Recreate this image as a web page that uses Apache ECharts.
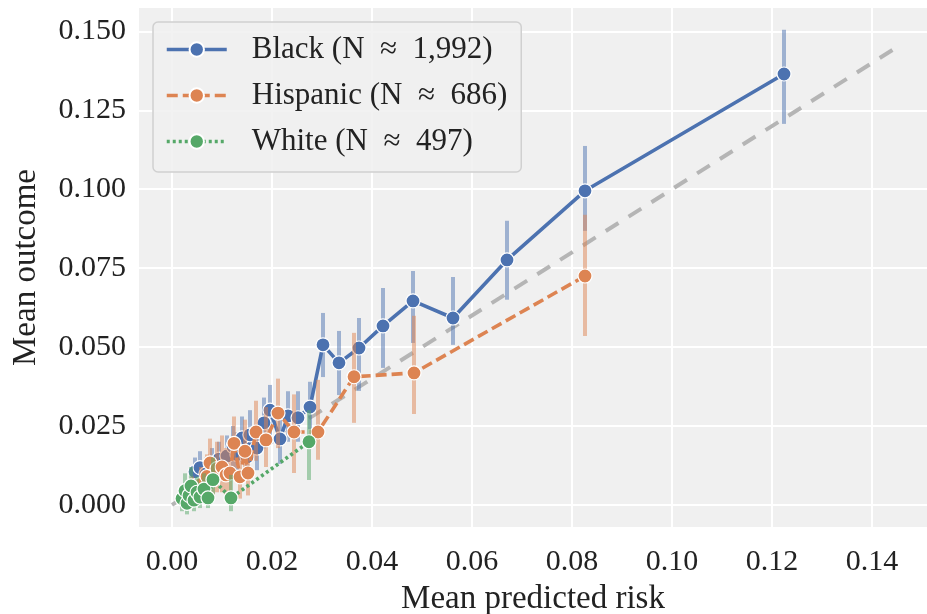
<!DOCTYPE html>
<html>
<head>
<meta charset="utf-8">
<script src="https://cdn.jsdelivr.net/npm/echarts@6/dist/echarts.min.js"></script>
<style>
html, body { margin: 0; padding: 0; background: #fff; }
#chart { width: 927px; height: 614px; }
</style>
</head>
<body>
<div id="chart"></div>
<script>
// binned calibration points: mean predicted risk, mean outcome, error bar low/high
var blackX  = [0.0046, 0.0056, 0.0068, 0.0080, 0.0094, 0.0110, 0.0122, 0.0130, 0.0140, 0.0150, 0.0156, 0.0170, 0.0184, 0.0196, 0.0216, 0.0232, 0.0252, 0.0276, 0.0302, 0.0334, 0.0374, 0.0422, 0.0482, 0.0562, 0.0670, 0.0826, 0.1224];
var blackY  = [0.0105, 0.0118, 0.0098, 0.0130, 0.0145, 0.0155, 0.0185, 0.0160, 0.0212, 0.0152, 0.0222, 0.0180, 0.0260, 0.0300, 0.0209, 0.0282, 0.0276, 0.0310, 0.0507, 0.0450, 0.0497, 0.0567, 0.0646, 0.0592, 0.0776, 0.0995, 0.1365];
var blackLo = [0.0060, 0.0070, 0.0050, 0.0080, 0.0090, 0.0100, 0.0120, 0.0100, 0.0140, 0.0090, 0.0150, 0.0110, 0.0180, 0.0220, 0.0130, 0.0200, 0.0200, 0.0240, 0.0405, 0.0348, 0.0361, 0.0434, 0.0513, 0.0507, 0.0650, 0.0868, 0.1207];
var blackHi = [0.0150, 0.0170, 0.0150, 0.0180, 0.0200, 0.0220, 0.0250, 0.0230, 0.0280, 0.0220, 0.0300, 0.0250, 0.0340, 0.0380, 0.0290, 0.0360, 0.0360, 0.0390, 0.0608, 0.0551, 0.0592, 0.0687, 0.0741, 0.0722, 0.0900, 0.1137, 0.1505];

var hispX  = [0.0040, 0.0058, 0.0070, 0.0076, 0.0082, 0.0090, 0.0100, 0.0108, 0.0116, 0.0124, 0.0136, 0.0146, 0.0152, 0.0168, 0.0188, 0.0212, 0.0244, 0.0292, 0.0364, 0.0484, 0.0826];
var hispY  = [0.0040, 0.0065, 0.0090, 0.0133, 0.0079, 0.0115, 0.0120, 0.0095, 0.0101, 0.0195, 0.0089, 0.0170, 0.0101, 0.0231, 0.0206, 0.0291, 0.0231, 0.0231, 0.0406, 0.0418, 0.0725];
var hispLo = [0.0000, 0.0010, 0.0030, 0.0060, 0.0020, 0.0040, 0.0040, 0.0030, 0.0030, 0.0110, 0.0020, 0.0090, 0.0030, 0.0140, 0.0120, 0.0180, 0.0101, 0.0143, 0.0260, 0.0288, 0.0535];
var hispHi = [0.0090, 0.0120, 0.0160, 0.0210, 0.0150, 0.0200, 0.0220, 0.0180, 0.0190, 0.0280, 0.0170, 0.0270, 0.0190, 0.0330, 0.0310, 0.0400, 0.0350, 0.0396, 0.0545, 0.0599, 0.0919];

var whiteX  = [0.0020, 0.0026, 0.0030, 0.0034, 0.0038, 0.0044, 0.0050, 0.0056, 0.0064, 0.0072, 0.0082, 0.0118, 0.0274];
var whiteY  = [0.0020, 0.0045, 0.0005, 0.0030, 0.0060, 0.0015, 0.0040, 0.0025, 0.0050, 0.0022, 0.0080, 0.0022, 0.0200];
var whiteLo = [-0.0020, 0.0000, -0.0030, -0.0010, 0.0010, -0.0020, 0.0000, -0.0010, 0.0010, -0.0010, 0.0020, -0.0020, 0.0079];
var whiteHi = [0.0060, 0.0100, 0.0050, 0.0080, 0.0120, 0.0060, 0.0090, 0.0070, 0.0100, 0.0060, 0.0150, 0.0095, 0.0300];

var diagX = [0, 0.146];
var xTicks = [0, 0.02, 0.04, 0.06, 0.08, 0.10, 0.12, 0.14];
var yTicks = [0, 0.025, 0.05, 0.075, 0.10, 0.125, 0.15];

var names = ['Black (N  \u2248  1,992)', 'Hispanic (N  \u2248  686)', 'White (N  \u2248  497)'];
var colors = ['#4c72b0', '#dd8452', '#55a868'];

var font = "'Liberation Serif', 'DejaVu Serif', serif";

function pts(xs, ys) {
	return xs.map(function (x, i) { return [x, ys[i]]; });
}
function bars(xs, lo, hi) {
	return xs.map(function (x, i) { return [x, lo[i], hi[i]]; });
}

function errSeries(name, data, color, z) {
	return {
		name: name,
		type: 'custom',
		z: z,
		silent: true,
		encode: { x: 0, y: [1, 2] },
		data: data,
		renderItem: function (params, api) {
			var p1 = api.coord([api.value(0), api.value(1)]);
			var p2 = api.coord([api.value(0), api.value(2)]);
			return {
				type: 'line',
				shape: { x1: p1[0], y1: p1[1], x2: p2[0], y2: p2[1] },
				style: { stroke: color, lineWidth: 4, opacity: 0.5 }
			};
		}
	};
}

function lineSeries(name, data, color, type, z) {
	return {
		name: name,
		type: 'line',
		z: z,
		data: data,
		symbol: 'circle',
		symbolSize: 14,
		itemStyle: { color: color, borderColor: '#fff', borderWidth: 1.2 },
		lineStyle: { color: color, width: 3.6, type: type }
	};
}

var chart = echarts.init(document.getElementById('chart'));
var option = {
	animation: false,
	textStyle: { fontFamily: font },
	grid: {
		left: 139, top: 8, right: 0, bottom: 87,
		outerBoundsMode: 'none',
		containLabel: false,
		show: true, backgroundColor: '#f0f0f0', borderWidth: 0
	},
	legend: {
		data: names,
		left: 153, top: 22,
		orient: 'vertical',
		padding: [12, 14, 15, 12],
		itemGap: 15,
		itemWidth: 60,
		itemHeight: 18,
		lineStyle: { width: 3.5 },
		backgroundColor: 'rgba(240,240,240,0.85)',
		borderColor: '#d0d0d0',
		borderWidth: 1.5,
		borderRadius: 5,
		textStyle: { fontFamily: font, fontSize: 31, color: '#222', padding: [0, 0, 0, 20] }
	},
	xAxis: {
		type: 'value',
		min: -0.0066, max: 0.151,
		name: 'Mean predicted risk',
		nameLocation: 'middle',
		nameGap: 56,
		nameTextStyle: { fontFamily: font, fontSize: 33, color: '#222' },
		axisLine: { show: false },
		axisTick: { show: false, customValues: xTicks },
		axisLabel: {
			customValues: xTicks, margin: 20,
			fontFamily: font, fontSize: 30, color: '#222',
			formatter: function (v) { return v.toFixed(2); }
		},
		splitLine: { show: true, lineStyle: { color: '#fff', width: 2 } }
	},
	yAxis: {
		type: 'value',
		min: -0.007, max: 0.1574,
		name: 'Mean outcome',
		nameLocation: 'middle',
		nameGap: 96,
		nameTextStyle: { fontFamily: font, fontSize: 33, color: '#222' },
		axisLine: { show: false },
		axisTick: { show: false, customValues: yTicks },
		axisLabel: {
			customValues: yTicks, margin: 13,
			fontFamily: font, fontSize: 30, color: '#222',
			formatter: function (v) { return v.toFixed(3); }
		},
		splitLine: { show: true, lineStyle: { color: '#fff', width: 2 } }
	},
	series: [
		{
			name: 'diag',
			type: 'line',
			z: 0,
			silent: true,
			symbol: 'none',
			data: pts(diagX, diagX),
			lineStyle: { color: '#b5b5b5', width: 4, type: [15, 12] }
		},
		errSeries('errBlack', bars(blackX, blackLo, blackHi), colors[0], 1),
		lineSeries(names[0], pts(blackX, blackY), colors[0], 'solid', 2),
		errSeries('errHisp', bars(hispX, hispLo, hispHi), colors[1], 3),
		lineSeries(names[1], pts(hispX, hispY), colors[1], [11, 5], 4),
		errSeries('errWhite', bars(whiteX, whiteLo, whiteHi), colors[2], 5),
		lineSeries(names[2], pts(whiteX, whiteY), colors[2], [3, 3], 6)
	]
};
chart.setOption(option);
</script>
</body>
</html>
